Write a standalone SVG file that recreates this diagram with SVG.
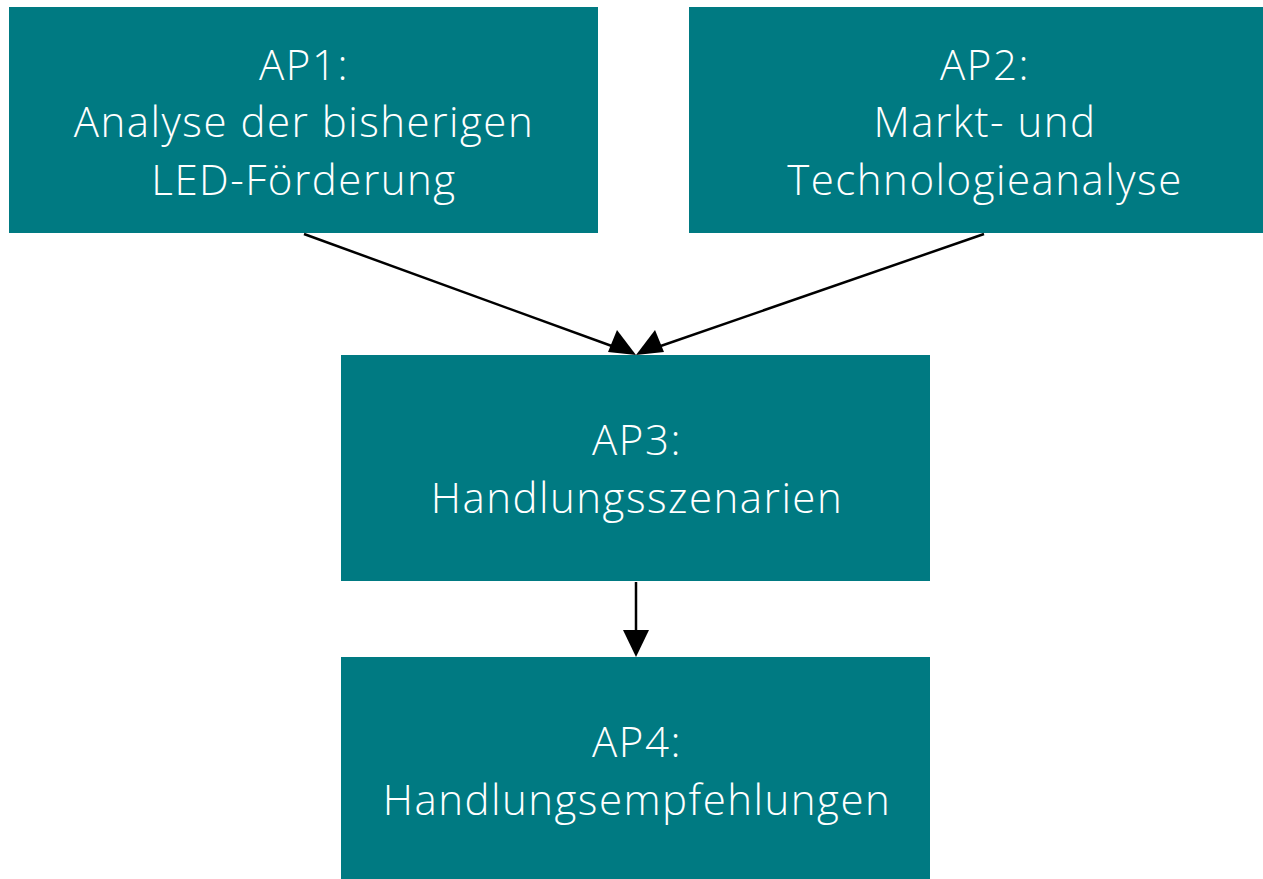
<svg xmlns="http://www.w3.org/2000/svg" width="1263" height="879" viewBox="0 0 1263 879">
  <style>
    .box { fill: #007A82; }
    .lbl { fill: #ffffff; font-family: "Open Sans", "Noto Sans", "Liberation Sans", sans-serif; font-weight: 300; font-size: 42px; letter-spacing: 1.5px; text-anchor: middle; }
    .edge { stroke: #000000; stroke-width: 2.5; fill: none; }
    .head { fill: #000000; }
  </style>
  <rect width="1263" height="879" fill="#ffffff"/>

  <g id="ap1">
    <rect class="box" x="9" y="7" width="589" height="226"/>
    <text class="lbl" x="304" y="80">AP1:</text>
    <text class="lbl" x="304" y="137">Analyse der bisherigen</text>
    <text class="lbl" x="304" y="195">LED-Förderung</text>
  </g>

  <g id="ap2">
    <rect class="box" x="689" y="7" width="574" height="226"/>
    <text class="lbl" x="985" y="80">AP2:</text>
    <text class="lbl" x="985" y="137">Markt- und</text>
    <text class="lbl" x="985" y="195">Technologieanalyse</text>
  </g>

  <g id="ap3">
    <rect class="box" x="341" y="355" width="589" height="226"/>
    <text class="lbl" x="637" y="455">AP3:</text>
    <text class="lbl" x="637" y="513">Handlungsszenarien</text>
  </g>

  <g id="ap4">
    <rect class="box" x="341" y="657" width="589" height="222"/>
    <text class="lbl" x="637" y="757">AP4:</text>
    <text class="lbl" x="637" y="815">Handlungsempfehlungen</text>
  </g>

  <g id="connectors">
    <line class="edge" x1="304" y1="234" x2="620" y2="349"/>
    <line class="edge" x1="984" y1="234" x2="652" y2="349"/>
    <line class="edge" x1="636" y1="582" x2="636" y2="632"/>
    <!-- arrowheads -->
    <polygon class="head" points="636,355 608,352 617,330"/>
    <polygon class="head" points="636,355 655,330 664,352"/>
    <polygon class="head" points="636,657 623,630 649,630"/>
  </g>
</svg>
